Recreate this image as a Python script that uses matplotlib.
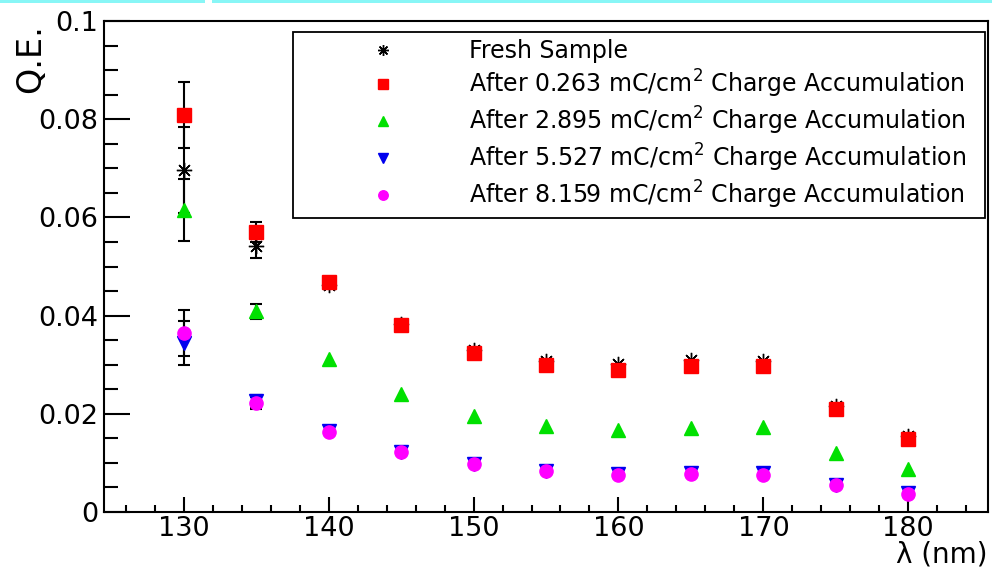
import matplotlib
matplotlib.use("Agg")
import matplotlib.pyplot as plt
from matplotlib.lines import Line2D
from matplotlib.patches import Rectangle
from matplotlib.ticker import MultipleLocator, FuncFormatter

plt.rcParams["font.family"] = ["DejaVu Sans"]

# Wavelength (nm)
wavelength = [130, 135, 140, 145, 150, 155, 160, 165, 170, 175, 180]

# Quantum efficiency per sample state, with uncertainties
qe_fresh = [0.0697, 0.0542, 0.0462, 0.0382, 0.0330, 0.0307, 0.0301, 0.0309, 0.0307, 0.0216, 0.0155]
err_fresh = [0.0088, 0.0024, 0, 0, 0, 0, 0, 0, 0, 0, 0]

qe_0263 = [0.0809, 0.0570, 0.0468, 0.0381, 0.0324, 0.0299, 0.0289, 0.0297, 0.0297, 0.0210, 0.0149]
err_0263 = [0.0067, 0.0020, 0, 0, 0, 0, 0, 0, 0, 0, 0]

qe_2895 = [0.0615, 0.0409, 0.0312, 0.0240, 0.0196, 0.0175, 0.0166, 0.0171, 0.0174, 0.0121, 0.0087]
err_2895 = [0.0063, 0.0015, 0, 0, 0, 0, 0, 0, 0, 0, 0]

qe_5527 = [0.0344, 0.0226, 0.0164, 0.0123, 0.0098, 0.0084, 0.0077, 0.0079, 0.0079, 0.0055, 0.0038]
err_5527 = [0.0045, 0.0013, 0, 0, 0, 0, 0, 0, 0, 0, 0]

qe_8159 = [0.0365, 0.0222, 0.0162, 0.0122, 0.0097, 0.0083, 0.0076, 0.0077, 0.0075, 0.0054, 0.0037]
err_8159 = [0.0047, 0.0013, 0, 0, 0, 0, 0, 0, 0, 0, 0]

labels = [
    "Fresh Sample",
    r"After 0.263 mC/cm$^{2}$ Charge Accumulation",
    r"After 2.895 mC/cm$^{2}$ Charge Accumulation",
    r"After 5.527 mC/cm$^{2}$ Charge Accumulation",
    r"After 8.159 mC/cm$^{2}$ Charge Accumulation",
]

series = [
    (qe_fresh, err_fresh, (8, 2, 0), "black", 11),
    (qe_0263, err_0263, "s", "#ff0000", 9.5),
    (qe_2895, err_2895, "^", "#00e000", 9.5),
    (qe_5527, err_5527, "v", "#0000ee", 9.5),
    (qe_8159, err_8159, "o", "#ff00ff", 9.5),
]

fig = plt.figure(figsize=(9.92, 5.76), dpi=100)
ax = fig.add_axes([104 / 992, 1 - 512 / 576, (988 - 104) / 992, (512 - 21) / 576])

# error bars first (only where non-zero), markers on top
for vals, errs, mk, col, ms in series:
    xs = [x for x, e in zip(wavelength, errs) if e > 0]
    ys = [v for v, e in zip(vals, errs) if e > 0]
    es = [e for e in errs if e > 0]
    ax.errorbar(xs, ys, yerr=es, fmt="none", ecolor="black",
                elinewidth=1.5, capsize=4.5, capthick=1.5, zorder=2)
for vals, errs, mk, col, ms in series:
    ax.plot(wavelength, vals, linestyle="none", marker=mk, color=col,
            markeredgecolor=col, markersize=ms, markeredgewidth=1.0, zorder=3)

ax.set_xlim(124.5, 185.5)
ax.set_ylim(0, 0.1)

ax.xaxis.set_major_locator(MultipleLocator(10))
ax.xaxis.set_minor_locator(MultipleLocator(2))
ax.yaxis.set_major_locator(MultipleLocator(0.02))
ax.yaxis.set_minor_locator(MultipleLocator(0.005))
ax.yaxis.set_major_formatter(FuncFormatter(lambda v, p: "%g" % round(v, 4)))

ax.tick_params(axis="both", which="both", direction="in", width=1.5,
               labelsize=19.5, top=False, right=False)
ax.tick_params(axis="y", which="major", length=19, pad=4)
ax.tick_params(axis="y", which="minor", length=10)
ax.tick_params(axis="x", which="major", length=11, pad=3)
ax.tick_params(axis="x", which="minor", length=5)
for sp in ax.spines.values():
    sp.set_linewidth(1.5)

# axis titles at the top-left and bottom-right corners
fig.text(31 / 992, 1 - 24 / 576, "Q.E.", rotation=90, ha="center", va="top", fontsize=24)
fig.text(988 / 992, 1 - 568 / 576, "λ (nm)", ha="right", va="bottom", fontsize=20)

handles = [
    Line2D([], [], linestyle="none", marker=mk, color=col, markeredgecolor=col,
           markersize=ms * 0.72, markeredgewidth=1.0)
    for vals, errs, mk, col, ms in series
]
leg = ax.legend(handles, labels, loc="upper left",
                bbox_to_anchor=(293 / 992, 1 - 210 / 576, 692 / 992, 178 / 576),
                bbox_transform=fig.transFigure, mode="expand", borderaxespad=0,
                fontsize=17, borderpad=0.3, labelspacing=0.2,
                handlelength=7.0, handletextpad=0.17, fancybox=False,
                framealpha=1, edgecolor="black")
leg.get_frame().set_linewidth(1.3)

# thin cyan strip along the top edge
fig.add_artist(Rectangle((0, 1 - 2.5 / 576), 205 / 992, 2.5 / 576,
                         transform=fig.transFigure, color="#88f6f6", lw=0))
fig.add_artist(Rectangle((212 / 992, 1 - 2.5 / 576), 780 / 992, 2.5 / 576,
                         transform=fig.transFigure, color="#88f6f6", lw=0))

fig.savefig("out.png", dpi=100)
